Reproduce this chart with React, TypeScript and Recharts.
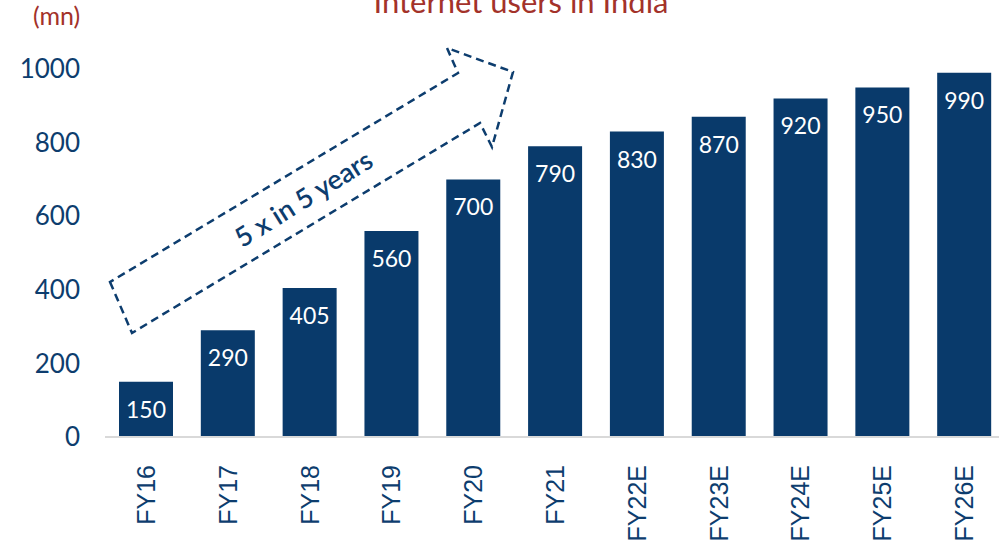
import { BarChart, Bar, XAxis, YAxis, LabelList } from "recharts";

const categories = ["FY16", "FY17", "FY18", "FY19", "FY20", "FY21", "FY22E", "FY23E", "FY24E", "FY25E", "FY26E"];
const users = [150, 290, 405, 560, 700, 790, 830, 870, 920, 950, 990];
const yTicks = [0, 200, 400, 600, 800, 1000];

const BLUE = "#093a6b";
const TEXT_BLUE = "#0d3d6e";
const RED = "#a3322a";
const FONT = "Lato, 'Open Sans', sans-serif";

const data = categories.map((c, i) => ({ name: c, value: users[i] }));

function XTick({ x, y, payload }: { x?: number; y?: number; payload?: { value: string } }) {
  return (
    <text
      transform={`translate(${x},${(y ?? 0) + 20}) rotate(-90)`}
      textAnchor="end"
      dy="0.36em"
      fill={TEXT_BLUE}
      fontSize={25}
      fontFamily="'Liberation Sans', Arial, sans-serif"
    >
      {payload?.value}
    </text>
  );
}

function BarLabel(props: any) {
  const vb = props.viewBox ?? props;
  const x = Number(vb.x);
  const y = Number(vb.y);
  const width = Number(vb.width);
  return (
    <text
      x={x + width / 2}
      y={y + 27}
      textAnchor="middle"
      dominantBaseline="central"
      fill="#ffffff"
      fontSize={23}
      fontFamily={FONT}
    >
      {props.value}
    </text>
  );
}

export default function App() {
  return (
    <div style={{ position: "absolute", left: 0, top: 0, width: 999, height: 543, overflow: "hidden", background: "#fff" }}>
      <BarChart
        width={1006}
        height={543}
        data={data}
        margin={{ top: 69, right: 1, left: 0, bottom: 6 }}
        barSize={54}
      >
        <XAxis
          dataKey="name"
          height={100}
          interval={0}
          tickLine={false}
          axisLine={{ stroke: "#d9d9d9", strokeWidth: 2 }}
          tick={<XTick />}
        />
        <YAxis
          width={105}
          domain={[0, 1000]}
          ticks={yTicks}
          axisLine={false}
          tickLine={false}
          tickSize={0}
          tickMargin={25}
          tick={{ fill: TEXT_BLUE, fontSize: 26, fontFamily: FONT }}
        />
        <Bar dataKey="value" fill={BLUE} isAnimationActive={false}>
          <LabelList dataKey="value" content={<BarLabel />} />
        </Bar>
      </BarChart>
      {/* annotations: unit, title and the growth arrow */}
      <svg width={999} height={543} style={{ position: "absolute", left: 0, top: 0, pointerEvents: "none" }}>
        <text x={33} y={25} fill={RED} fontSize={25} fontFamily={FONT}>
          (mn)
        </text>
        <text x={521} y={13} textAnchor="middle" fill={RED} fontSize={31} fontFamily={FONT}>
          Internet users in India
        </text>
        <polygon
          points="110,282 132,333 480,123 492,147 513,72 447,48 458,73"
          fill="none"
          stroke={TEXT_BLUE}
          strokeWidth={2.5}
          strokeDasharray="8 5"
        />
        <text
          transform="translate(303,198) rotate(-32)"
          textAnchor="middle"
          dominantBaseline="central"
          fill={TEXT_BLUE}
          fontSize={27}
          fontWeight={600}
          fontFamily={FONT}
        >
          5 x in 5 years
        </text>
      </svg>
    </div>
  );
}
